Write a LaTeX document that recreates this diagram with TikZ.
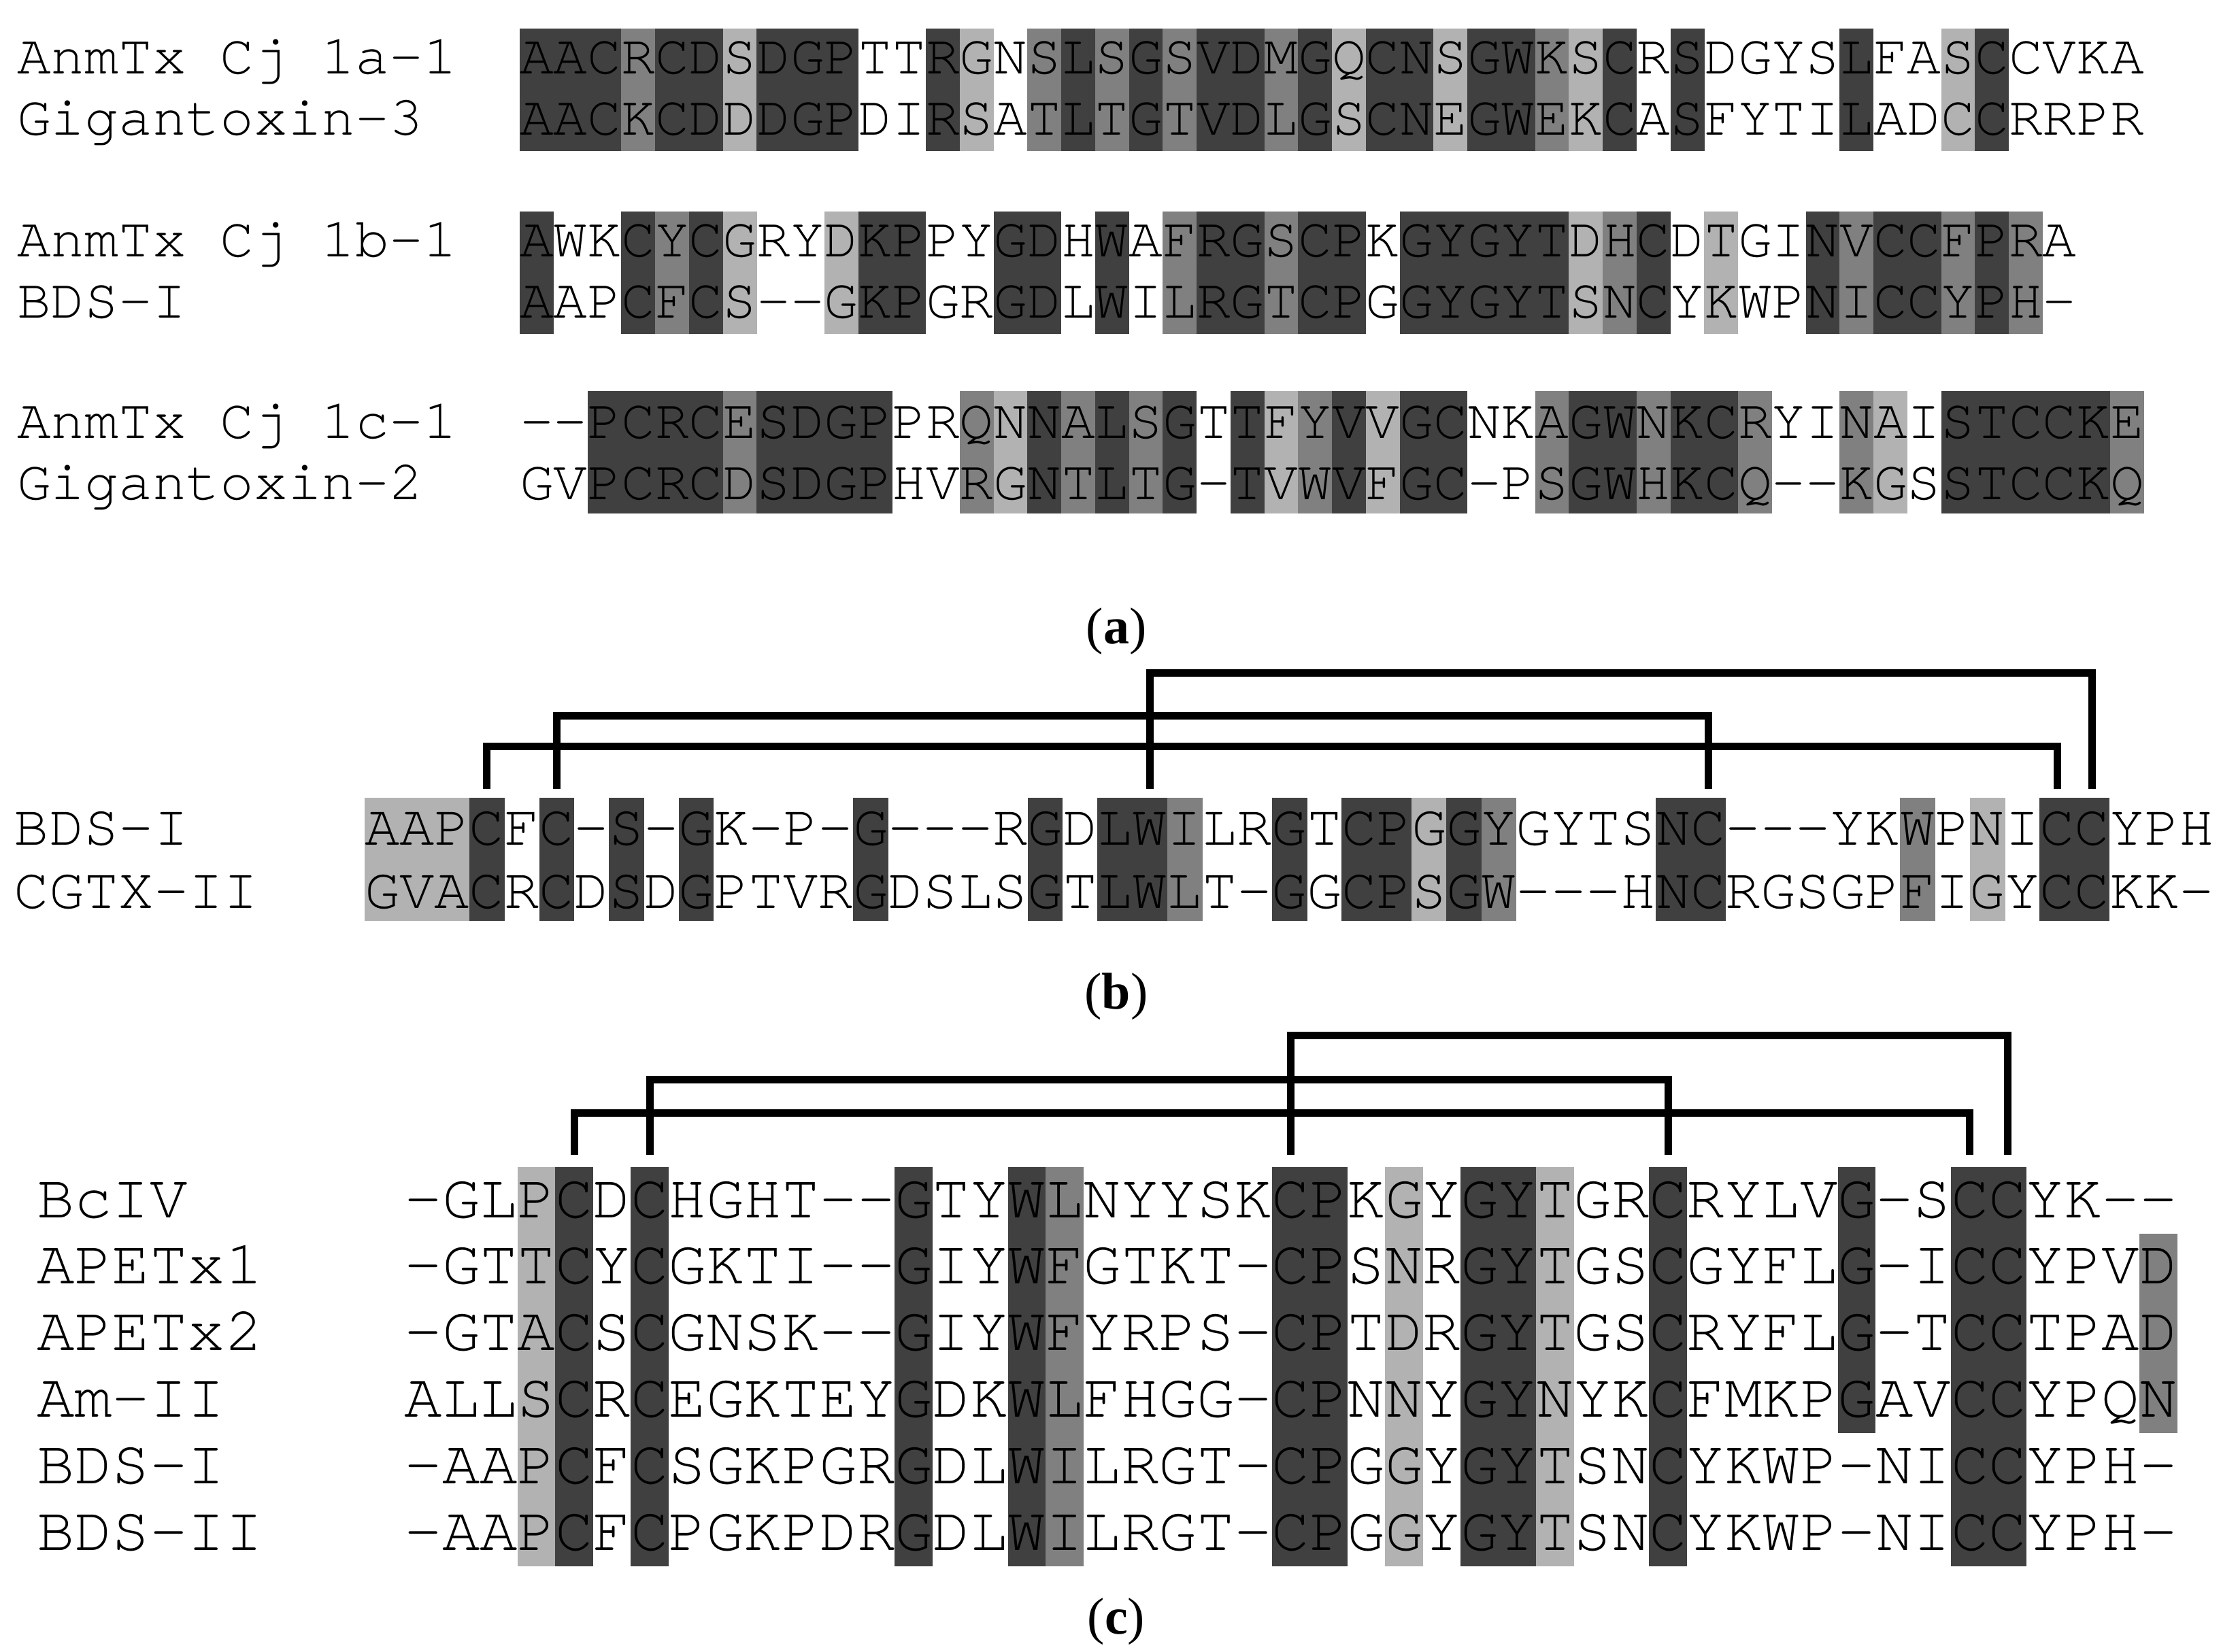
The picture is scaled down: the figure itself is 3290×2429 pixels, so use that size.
\documentclass[tikz,border=0pt]{standalone}
\usepackage{fontspec}
\newfontfamily\seqfont{texgyrecursor-regular.otf}
\newfontfamily\capfont{Liberation Serif}
\newcommand\seqA{\seqfont\fontsize{20.73pt}{24pt}\selectfont}
\newcommand\seqB{\seqfont\fontsize{21.375pt}{25pt}\selectfont}
\newcommand\seqC{\seqfont\fontsize{23.1pt}{27pt}\selectfont}
\newcommand\capsz{\capfont\fontsize{19pt}{22pt}\selectfont}
\definecolor{shD}{RGB}{64,64,64}
\definecolor{shM}{RGB}{128,128,128}
\definecolor{shL}{RGB}{178,178,178}
\newcount\colidx
\def\shadeloop#1{\ifx#1\relax\else\shadeone#1\global\advance\colidx by 1 \expandafter\shadeloop\fi}
\def\shadeone#1{\ifx#1W\else\fill[sh#1] ({\curx+\the\colidx*\curw},\cury) rectangle ({\curx+(\the\colidx+1)*\curw+0.4},\curyb);\fi}
\newcommand\shadecols[5]{\def\curx{#1}\def\curw{#2}\def\cury{#3}\def\curyb{#4}\global\colidx=0 \shadeloop#5\relax}
\def\seqloop#1{\ifx#1\relax\else\seqone#1\global\advance\colidx by 1 \expandafter\seqloop\fi}
\def\seqone#1{\node[res,font=\curfont] (\curpre\the\colidx) at ({\curx+(\the\colidx+0.5)*\curw},\cury) {#1};}
\newcommand\seqrow[6]{\def\curpre{#1}\def\curx{#2}\def\curw{#3}\def\cury{#4}\def\curfont{#5}\global\colidx=0 \seqloop#6\relax}
\begin{document}
\begin{tikzpicture}[x=0.25pt,y=-0.25pt,
  res/.style={anchor=base,inner sep=0pt,outer sep=0pt},
  lab/.style={anchor=base west,inner sep=0pt,outer sep=0pt},
  captxt/.style={anchor=base,inner sep=0pt,outer sep=0pt,font=\capsz},
  bond/.style={line width=2.75pt,line join=miter,line cap=butt}]
\useasboundingbox[fill=white] (0,0) rectangle (3290,2429);

% ---------------- panel (a) ----------------
\shadecols{764}{49.75}{42}{222}{DDDMDDLDDDWWDLWMDMDMDDMDLDDLDDMLDWDWWWWDWWLDWWWW}
\shadecols{764}{49.75}{311}{491}{DWWDMDLWWLDDWWDDWDWMDDMDDWDDDDDLMDWLWWDMDDMDMW}
\shadecols{764}{49.75}{575}{755}{WWDDDDMDDDDWWMLDMDMDWDLMDLDDWWMDDMDDMWWMLWDDDDDM}

\node[lab,font=\seqA] (la1) at (25,109) {AnmTx Cj 1a-1};
\node[lab,font=\seqA] (la2) at (25,199) {Gigantoxin-3};
\node[lab,font=\seqA] (la3) at (25,378) {AnmTx Cj 1b-1};
\node[lab,font=\seqA] (la4) at (25,468) {BDS-I};
\node[lab,font=\seqA] (la5) at (25,644) {AnmTx Cj 1c-1};
\node[lab,font=\seqA] (la6) at (25,734) {Gigantoxin-2};

\seqrow{ra1x}{764}{49.75}{109}{\seqA}{AACRCDSDGPTTRGNSLSGSVDMGQCNSGWKSCRSDGYSLFASCCVKA}
\seqrow{ra2x}{764}{49.75}{199}{\seqA}{AACKCDDDGPDIRSATLTGTVDLGSCNEGWEKCASFYTILADCCRRPR}
\seqrow{ra3x}{764}{49.75}{378}{\seqA}{AWKCYCGRYDKPPYGDHWAFRGSCPKGYGYTDHCDTGINVCCFPRA}
\seqrow{ra4x}{764}{49.75}{468}{\seqA}{AAPCFCS--GKPGRGDLWILRGTCPGGYGYTSNCYKWPNICCYPH-}
\seqrow{ra5x}{764}{49.75}{644}{\seqA}{--PCRCESDGPPRQNNALSGTTFYVVGCNKAGWNKCRYINAISTCCKE}
\seqrow{ra6x}{764}{49.75}{734}{\seqA}{GVPCRCDSDGPHVRGNTLTG-TVWVFGC-PSGWHKCQ--KGSSTCCKQ}

\node[captxt] (capa) at (1641,946) {(\textbf{a})};

% ---------------- panel (b) ----------------
\shadecols{536}{51.3}{1173}{1354}{LLLDWDWDWDWWWWDWWWWDWDDMWWDWDDLDMWWWWDDWWWWWMWLWDDWWW}

\node[lab,font=\seqB] (lb1) at (21,1242) {BDS-I};
\node[lab,font=\seqB] (lb2) at (21,1335) {CGTX-II};

\seqrow{rb1x}{536}{51.3}{1242}{\seqB}{AAPCFC-S-GK-P-G---RGDLWILRGTCPGGYGYTSNC---YKWPNICCYPH}
\seqrow{rb2x}{536}{51.3}{1335}{\seqB}{GVACRCDSDGPTVRGDSLSGTLWLT-GGCPSGW---HNCRGSGPFIGYCCKK-}

\coordinate (bBot) at (0,1160);
\coordinate (bL1) at (0,1097);
\coordinate (bL2) at (0,1052);
\coordinate (bL3) at (0,989);
\draw[bond] (rb1x3 |- bBot) -- (rb1x3 |- bL1) -- (rb1x48 |- bL1) -- (rb1x48 |- bBot);
\draw[bond] (rb1x5 |- bBot) -- (rb1x5 |- bL2) -- (rb1x38 |- bL2) -- (rb1x38 |- bBot);
\draw[bond] (rb1x22 |- bBot) -- (rb1x22 |- bL3) -- (rb1x49 |- bL3) -- (rb1x49 |- bBot);

\node[captxt] (capb) at (1641,1483) {(\textbf{b})};

% ---------------- panel (c) ----------------
\shadecols{594.6}{55.45}{1716}{2303}{WWWLDWDWWWWWWDWWDMWWWWWDDWLWDDLWWDWWWWWWWDDWWWW}
\fill[shD] ({594.6+38*55.45},1716) rectangle ({594.6+39*55.45},{1716+4*97.8});
\fill[shM] ({594.6+46*55.45},{1716+97.8}) rectangle ({594.6+47*55.45},{1716+4*97.8});

\node[lab,font=\seqC] (lc1) at (54,1790) {BcIV};
\node[lab,font=\seqC] (lc2) at (54,1887.8) {APETx1};
\node[lab,font=\seqC] (lc3) at (54,1985.6) {APETx2};
\node[lab,font=\seqC] (lc4) at (54,2083.4) {Am-II};
\node[lab,font=\seqC] (lc5) at (54,2181.2) {BDS-I};
\node[lab,font=\seqC] (lc6) at (54,2279) {BDS-II};

\seqrow{rc1x}{594.6}{55.45}{1790}{\seqC}{-GLPCDCHGHT--GTYWLNYYSKCPKGYGYTGRCRYLVG-SCCYK--}
\seqrow{rc2x}{594.6}{55.45}{1887.8}{\seqC}{-GTTCYCGKTI--GIYWFGTKT-CPSNRGYTGSCGYFLG-ICCYPVD}
\seqrow{rc3x}{594.6}{55.45}{1985.6}{\seqC}{-GTACSCGNSK--GIYWFYRPS-CPTDRGYTGSCRYFLG-TCCTPAD}
\seqrow{rc4x}{594.6}{55.45}{2083.4}{\seqC}{ALLSCRCEGKTEYGDKWLFHGG-CPNNYGYNYKCFMKPGAVCCYPQN}
\seqrow{rc5x}{594.6}{55.45}{2181.2}{\seqC}{-AAPCFCSGKPGRGDLWILRGT-CPGGYGYTSNCYKWP-NICCYPH-}
\seqrow{rc6x}{594.6}{55.45}{2279}{\seqC}{-AAPCFCPGKPDRGDLWILRGT-CPGGYGYTSNCYKWP-NICCYPH-}

\coordinate (cBot) at (0,1698);
\coordinate (cL1) at (0,1636);
\coordinate (cL2) at (0,1587);
\coordinate (cL3) at (0,1522);
\draw[bond] (rc1x4 |- cBot) -- (rc1x4 |- cL1) -- (rc1x41 |- cL1) -- (rc1x41 |- cBot);
\draw[bond] (rc1x6 |- cBot) -- (rc1x6 |- cL2) -- (rc1x33 |- cL2) -- (rc1x33 |- cBot);
\draw[bond] (rc1x23 |- cBot) -- (rc1x23 |- cL3) -- (rc1x42 |- cL3) -- (rc1x42 |- cBot);

\node[captxt] (capc) at (1641,2402) {(\textbf{c})};
\end{tikzpicture}
\end{document}
